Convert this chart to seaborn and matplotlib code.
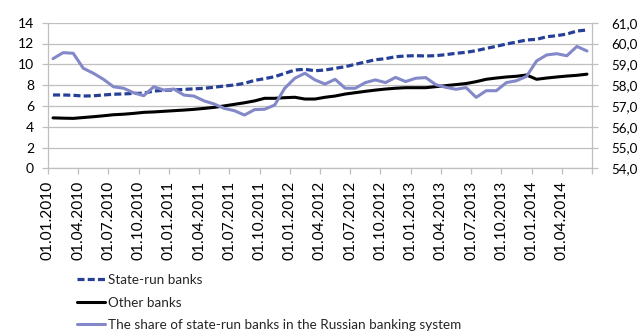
import matplotlib
matplotlib.use("Agg")
import matplotlib.pyplot as plt
import seaborn as sns
import numpy as np
import pandas as pd

tick_labels = ["01.01.2010", "01.04.2010", "01.07.2010", "01.10.2010",
               "01.01.2011", "01.04.2011", "01.07.2011", "01.10.2011",
               "01.01.2012", "01.04.2012", "01.07.2012", "01.10.2012",
               "01.01.2013", "01.04.2013", "01.07.2013", "01.10.2013",
               "01.01.2014", "01.04.2014"]

state_run = [7.05, 7.05, 7.02, 6.95, 6.97, 7.05, 7.12, 7.15, 7.2, 7.22,
             7.43, 7.5, 7.53, 7.59, 7.64, 7.69, 7.8, 7.91, 8.01, 8.17,
             8.45, 8.62, 8.81, 9.13, 9.45, 9.52, 9.38, 9.45, 9.61, 9.77,
             10.0, 10.22, 10.44, 10.54, 10.73, 10.8, 10.83, 10.8, 10.83, 10.93,
             11.06, 11.15, 11.31, 11.53, 11.73, 11.95, 12.14, 12.34, 12.4, 12.65,
             12.75, 12.91, 13.2, 13.3]

other_banks = [4.85, 4.82, 4.8, 4.88, 4.96, 5.05, 5.15, 5.2, 5.28, 5.38,
               5.42, 5.48, 5.54, 5.6, 5.67, 5.76, 5.86, 6.0, 6.15, 6.3,
               6.48, 6.73, 6.73, 6.79, 6.83, 6.66, 6.66, 6.83, 6.95, 7.14,
               7.27, 7.4, 7.52, 7.62, 7.7, 7.75, 7.75, 7.75, 7.85, 7.95,
               8.05, 8.15, 8.33, 8.56, 8.68, 8.78, 8.85, 8.97, 8.56, 8.68,
               8.78, 8.87, 8.94, 9.05]

share_state = [59.27, 59.56, 59.53, 58.81, 58.57, 58.28, 57.92, 57.85, 57.63, 57.49,
               57.92, 57.76, 57.81, 57.52, 57.47, 57.24, 57.09, 56.88, 56.77, 56.56,
               56.82, 56.84, 57.04, 57.85, 58.33, 58.57, 58.25, 58.05, 58.28, 57.85,
               57.85, 58.12, 58.25, 58.12, 58.37, 58.17, 58.33, 58.36, 58.02, 57.89,
               57.80, 57.88, 57.41, 57.73, 57.73, 58.12, 58.21, 58.42, 59.16, 59.45,
               59.51, 59.41, 59.86, 59.64]

labels = ["State-run banks", "Other banks",
          "The share of state-run banks in the Russian banking system"]

sns.set_theme(style="white")
plt.rcParams['font.family'] = ['Lato', 'DejaVu Sans']

n = len(state_run)
x = np.arange(n) + 0.5
df = pd.DataFrame({"x": x, "state": state_run, "other": other_banks, "share": share_state})

fig = plt.figure(figsize=(6.41, 3.31), dpi=100)
ax = fig.add_axes([48/641, 1-168.3/331, (592-48)/641, (168.3-22.7)/331])
ax2 = ax.twinx()

c_state = "#263F98"
c_other = "#000000"
c_share = "#8388C8"

sns.lineplot(data=df, x="x", y="state", ax=ax, color=c_state, lw=2.3,
             linestyle=(0, (2.2, 1.0)), label=labels[0], legend=False, zorder=3)
sns.lineplot(data=df, x="x", y="other", ax=ax, color=c_other, lw=2.2,
             label=labels[1], legend=False, zorder=3)
sns.lineplot(data=df, x="x", y="share", ax=ax2, color=c_share, lw=2.2,
             label=labels[2], legend=False, zorder=3)

ax.set_xlim(0, n)
ax.set_ylim(0, 14)
ax.set_yticks(np.arange(0, 15, 2))
ax2.set_ylim(54, 61)
ax2.set_yticks(np.arange(54, 62, 1))
ax2.set_yticklabels([f"{v},0" for v in range(54, 62)])

ax.set_xticks(np.arange(0, n + 1, 3))
ax.set_xticklabels(tick_labels + [""], rotation=90)
ax.set_xlabel("")
ax.set_ylabel("")
ax2.set_ylabel("")

ax.grid(axis="y", color="#BFBFBF", lw=0.9)
ax.set_axisbelow(True)
for a in (ax, ax2):
    for s in a.spines.values():
        s.set_visible(False)
ax.spines["left"].set_visible(True)
ax.spines["bottom"].set_visible(True)
ax2.spines["right"].set_visible(True)
for s in (ax.spines["left"], ax.spines["bottom"], ax2.spines["right"]):
    s.set_color("#BFBFBF")
    s.set_linewidth(0.9)

ax.tick_params(axis="both", which="major", labelsize=10, colors="#BFBFBF",
               labelcolor="#000000", length=4, width=0.9, direction="out",
               left=True, bottom=True)
ax.tick_params(axis="x", labelsize=11.2, pad=5)
ax.tick_params(axis="y", pad=6)
ax2.tick_params(axis="y", labelsize=9.6, colors="#BFBFBF", labelcolor="#000000",
                length=4, width=0.9, direction="out", right=True, pad=10)

handles = ax.get_lines()[:2] + ax2.get_lines()[:1]
fig.legend(handles, labels, loc="upper left", bbox_to_anchor=(77/641, 1-274/331),
           frameon=False, fontsize=9.7, handlelength=2.1, handletextpad=0.2,
           labelspacing=0.78, borderaxespad=0, borderpad=0)

fig.savefig("out.png", dpi=100)
